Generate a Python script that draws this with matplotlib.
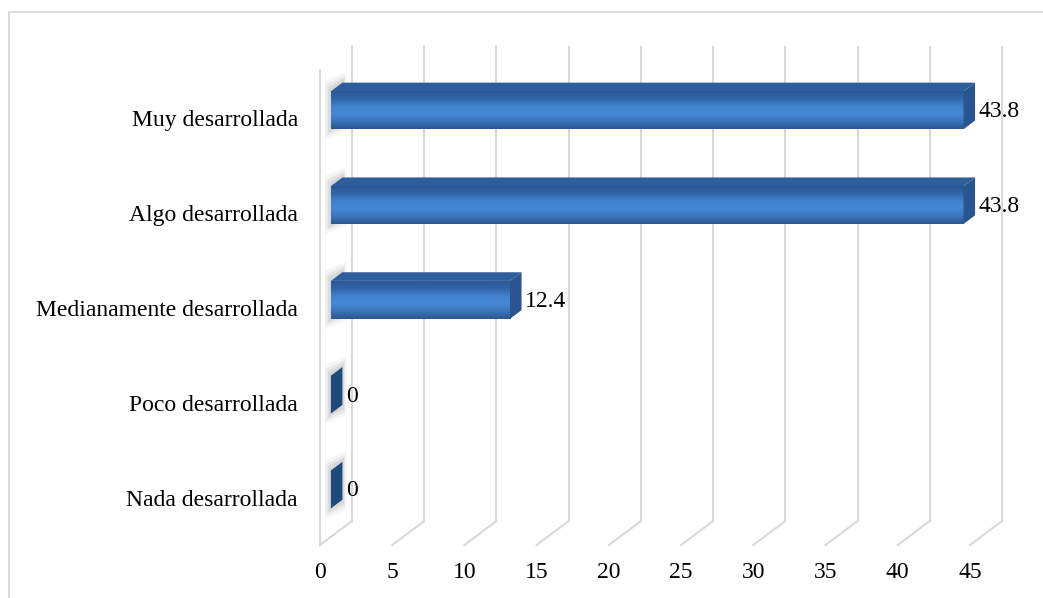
import numpy as np
import matplotlib
matplotlib.use('Agg')
import matplotlib.pyplot as plt
from matplotlib.patches import Polygon, Rectangle
from matplotlib.colors import LinearSegmentedColormap

categories = ['Nada desarrollada', 'Poco desarrollada', 'Medianamente desarrollada',
              'Algo desarrollada', 'Muy desarrollada']
values = [0, 0, 12.4, 43.8, 43.8]
value_labels = ['0', '0', '12.4', '43.8', '43.8']
x_ticks = [0, 5, 10, 15, 20, 25, 30, 35, 40, 45]

plt.rcParams['font.family'] = ['Liberation Serif', 'DejaVu Serif']

W, H = 1043, 598
fig = plt.figure(figsize=(W / 100, H / 100), dpi=100)
ax = fig.add_axes([320 / W, 53 / H, 650 / W, 474 / H])

# depth of the fake 3d box, in data units
DX = 45 * 32 / 650
DY = 5 * 24 / 474
f0, f1 = 0.34, 0.70
half = 0.2

grid_c = '#d9d9d9'
# back wall gridlines + floor diagonals
for t in x_ticks:
    ax.plot([t + DX, t + DX], [-0.5 + DY, 4.5 + DY], color=grid_c, lw=1.5, zorder=1, clip_on=False)
    ax.plot([t, t + DX], [-0.5, -0.5 + DY], color=grid_c, lw=1.5, zorder=1, clip_on=False)
ax.plot([0, 0], [-0.5, 4.5], color=grid_c, lw=1.5, zorder=1, clip_on=False)

face_cmap = LinearSegmentedColormap.from_list(
    'face', ['#2b5890', '#3a74bb', '#4788d4', '#4283cf', '#3166a8', '#2a5895'])
grad = np.linspace(0, 1, 64).reshape(-1, 1)

ddx, ddy = (f1 - f0) * DX, (f1 - f0) * DY
for i, v in enumerate(values):
    x0 = f0 * DX
    yc = i + f0 * DY
    yb, yt = yc - half, yc + half
    # soft shadow near the base of each bar
    for k, a in zip([0.9, 0.6, 0.35], [0.05, 0.07, 0.09]):
        ax.add_patch(Polygon([(x0 - k * 0.5, yb - k * 0.12), (x0 - k * 0.5, yt + k * 0.12),
                              (x0 + ddx + k * 0.3, yt + ddy + k * 0.12),
                              (x0 + ddx + k * 0.3, yb + ddy - k * 0.12)],
                             closed=True, fc='#404040', ec='none', alpha=a, zorder=2, clip_on=False))
    if v > 0:
        im = ax.imshow(grad, cmap=face_cmap, aspect='auto', extent=[x0, x0 + v, yt, yb],
                       origin='upper', zorder=3, interpolation='bilinear')
        im.set_clip_on(False)
        ax.add_patch(Polygon([(x0, yt), (x0 + v, yt), (x0 + v + ddx, yt + ddy), (x0 + ddx, yt + ddy)],
                             closed=True, fc='#2f5e9c', ec='none', zorder=3, clip_on=False))
        side_c = '#2a5590'
    else:
        side_c = '#1f4a7c'
    ax.add_patch(Polygon([(x0 + v, yb), (x0 + v, yt), (x0 + v + ddx, yt + ddy), (x0 + v + ddx, yb + ddy)],
                         closed=True, fc=side_c, ec='none', zorder=4, clip_on=False))
    ax.text(x0 + v + ddx + 0.25, i + 0.07, value_labels[i], ha='left', va='center',
            fontsize=17, color='black', zorder=5)

ax.set_xlim(0, 45)
ax.set_ylim(-0.5, 4.5)
ax.set_xticks(x_ticks)
ax.set_xticklabels([str(t) for t in x_ticks])
ax.set_yticks(range(len(categories)))
ax.set_yticklabels(categories)
ax.tick_params(axis='x', length=0, pad=12, labelsize=17)
ax.tick_params(axis='y', length=0, pad=16, labelsize=17)
for s in ax.spines.values():
    s.set_visible(False)
ax.set_facecolor('none')

fig.add_artist(Rectangle((9 / W, -0.1), 1.2, (H - 12) / H + 0.1, transform=fig.transFigure,
                         fill=False, ec='#d9d9d9', lw=1.3))

fig.savefig('out.png', dpi=100, facecolor='white')
